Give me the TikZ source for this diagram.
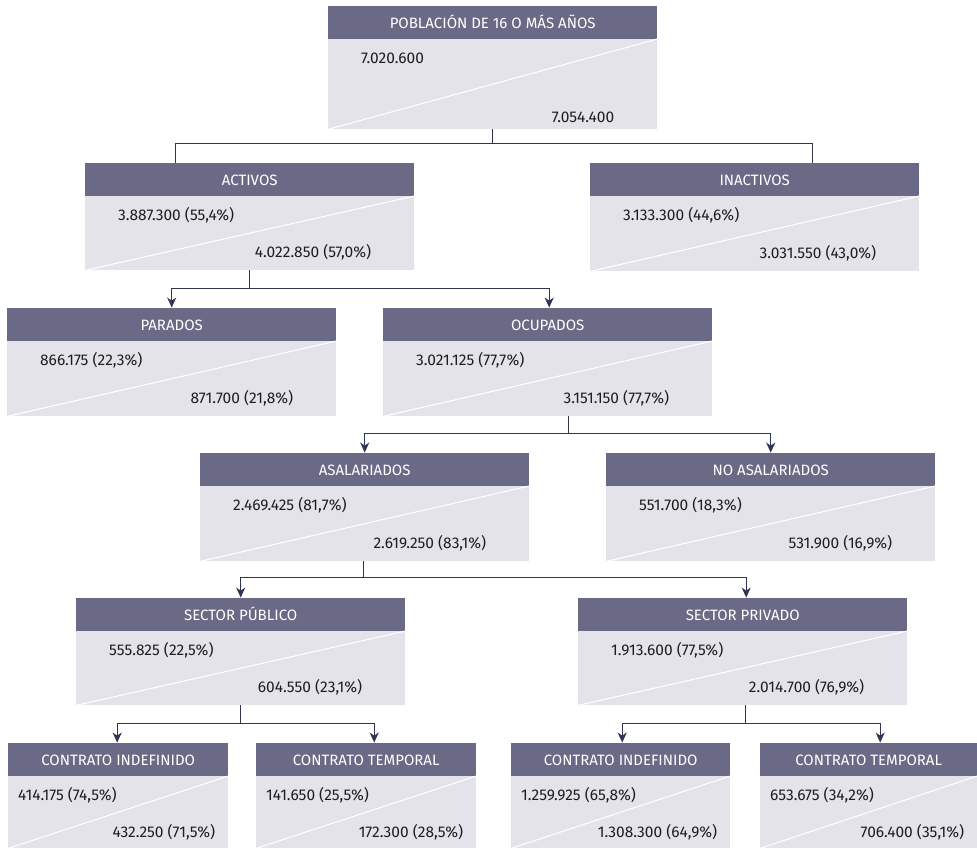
\documentclass[tikz,border=0pt]{standalone}
\usepackage{fontspec}
\setmainfont{Fira Sans}
\usetikzlibrary{arrows.meta,calc}

\definecolor{headfill}{HTML}{6B6A86}
\definecolor{bodyfill}{HTML}{E3E3E9}
\definecolor{linkcol}{HTML}{2F3553}
\definecolor{valcol}{HTML}{1E1E1E}

\tikzset{
  headbox/.style={fill=headfill, inner sep=0pt, minimum height=33pt},
  titletext/.style={text=white, inner sep=0pt, text height=10.3pt, text depth=0pt,
    font=\fontsize{15}{17}\selectfont},
  bodybox/.style={fill=bodyfill, inner sep=0pt},
  diag/.style={draw=white, line width=1.1pt},
  valtext/.style={text=valcol, inner sep=0pt, text height=10.7pt, text depth=0pt,
    font=\fontsize{15.5}{17}\selectfont},
  conn/.style={draw=linkcol, line width=1.4pt},
  arr/.style={conn, -{Stealth[length=10pt,width=9pt,inset=3pt]}},
}

% left inset, right inset, top value drop, bottom value rise
\def\inl{33}\def\inr{43}\def\vtop{19.5}\def\vbot{18}

% #1 name, #2 left, #3 top, #4 width, #5 body height, #6 title, #7 first value, #8 second value
\newcommand\orgbox[8]{%
  \node[bodybox, anchor=north west, minimum width=#4pt, minimum height=#5pt] (#1) at (#2,#3+33) {};
  \node[headbox, anchor=south west, minimum width=#4pt] (#1-h) at (#1.north west) {};
  \node[titletext] (#1-t) at ($(#1-h.center)+(0,1.5)$) {#6};
  \draw[diag] (#1.south west) -- (#1.north east);
  \node[valtext, anchor=west] (#1-a) at ($(#1.north west)+(\inl,\vtop)$) {#7};
  \node[valtext, anchor=east] (#1-b) at ($(#1.south east)+(-\inr,-\vbot)$) {#8};
}

\begin{document}
\begin{tikzpicture}[x=1pt,y=-1pt]
\useasboundingbox (0,0) rectangle (977,848);

\def\vbot{12.5}
\orgbox{pob}{328}{6}{329}{90}{POBLACIÓN DE 16 O MÁS AÑOS}{7.020.600}{7.054.400}
\def\vbot{18}
\orgbox{act}{85}{163}{329}{74}{ACTIVOS}{3.887.300 (55,4\%)}{4.022.850 (57,0\%)}
\orgbox{ina}{590}{163}{329}{75}{INACTIVOS}{3.133.300 (44,6\%)}{3.031.550 (43,0\%)}
\orgbox{par}{7}{308}{329}{75}{PARADOS}{866.175 (22,3\%)}{871.700 (21,8\%)}
\orgbox{ocu}{383}{308}{329}{75}{OCUPADOS}{3.021.125 (77,7\%)}{3.151.150 (77,7\%)}
\orgbox{asa}{200}{453}{329}{75}{ASALARIADOS}{2.469.425 (81,7\%)}{2.619.250 (83,1\%)}
\orgbox{nas}{606}{453}{329}{75}{NO ASALARIADOS}{551.700 (18,3\%)}{531.900 (16,9\%)}
\orgbox{spu}{76}{598}{329}{74}{SECTOR PÚBLICO}{555.825 (22,5\%)}{604.550 (23,1\%)}
\orgbox{spr}{578}{598}{329}{74}{SECTOR PRIVADO}{1.913.600 (77,5\%)}{2.014.700 (76,9\%)}

\def\inl{10}\def\inr{13}\def\vtop{19}\def\vbot{16}
\orgbox{ci1}{8}{743}{220}{72}{CONTRATO INDEFINIDO}{414.175 (74,5\%)}{432.250 (71,5\%)}
\orgbox{ct1}{256}{743}{220}{72}{CONTRATO TEMPORAL}{141.650 (25,5\%)}{172.300 (28,5\%)}
\orgbox{ci2}{511}{743}{219}{72}{CONTRATO INDEFINIDO}{1.259.925 (65,8\%)}{1.308.300 (64,9\%)}
\orgbox{ct2}{760}{743}{217}{72}{CONTRATO TEMPORAL}{653.675 (34,2\%)}{706.400 (35,1\%)}

% population split (no arrow heads)
\draw[conn] (pob.south) -- ++(0,14) coordinate (j0);
\draw[conn] (j0) -| ([xshift=-74.5pt]act-h.north);
\draw[conn] (j0) -| ([xshift=57.5pt]ina-h.north);

% active population
\draw[conn] (act.south) -- ++(0,18) coordinate (j1);
\draw[arr] (j1) -| (par-h.north);
\draw[arr] (j1) -| ([xshift=1.5pt]ocu-h.north);

% employed
\draw[conn] ([xshift=20.5pt]ocu.south) -- ++(0,17) coordinate (j2);
\draw[arr] (j2) -| (asa-h.north);
\draw[arr] (j2) -| (nas-h.north);

% wage earners
\draw[conn] ([xshift=-1.5pt]asa.south) -- ++(0,16) coordinate (j3);
\draw[arr] (j3) -| (spu-h.north);
\draw[arr] (j3) -| ([xshift=3.5pt]spr-h.north);

% public sector
\draw[conn] (spu.south) -- ++(0,18) coordinate (j4);
\draw[arr] (j4) -| ([xshift=-1pt]ci1-h.north);
\draw[arr] (j4) -| ([xshift=8pt]ct1-h.north);

% private sector
\draw[conn] ([xshift=2.5pt]spr.south) -- ++(0,18) coordinate (j5);
\draw[arr] (j5) -| ([xshift=1.5pt]ci2-h.north);
\draw[arr] (j5) -| ([xshift=11.5pt]ct2-h.north);
\end{tikzpicture}
\end{document}
